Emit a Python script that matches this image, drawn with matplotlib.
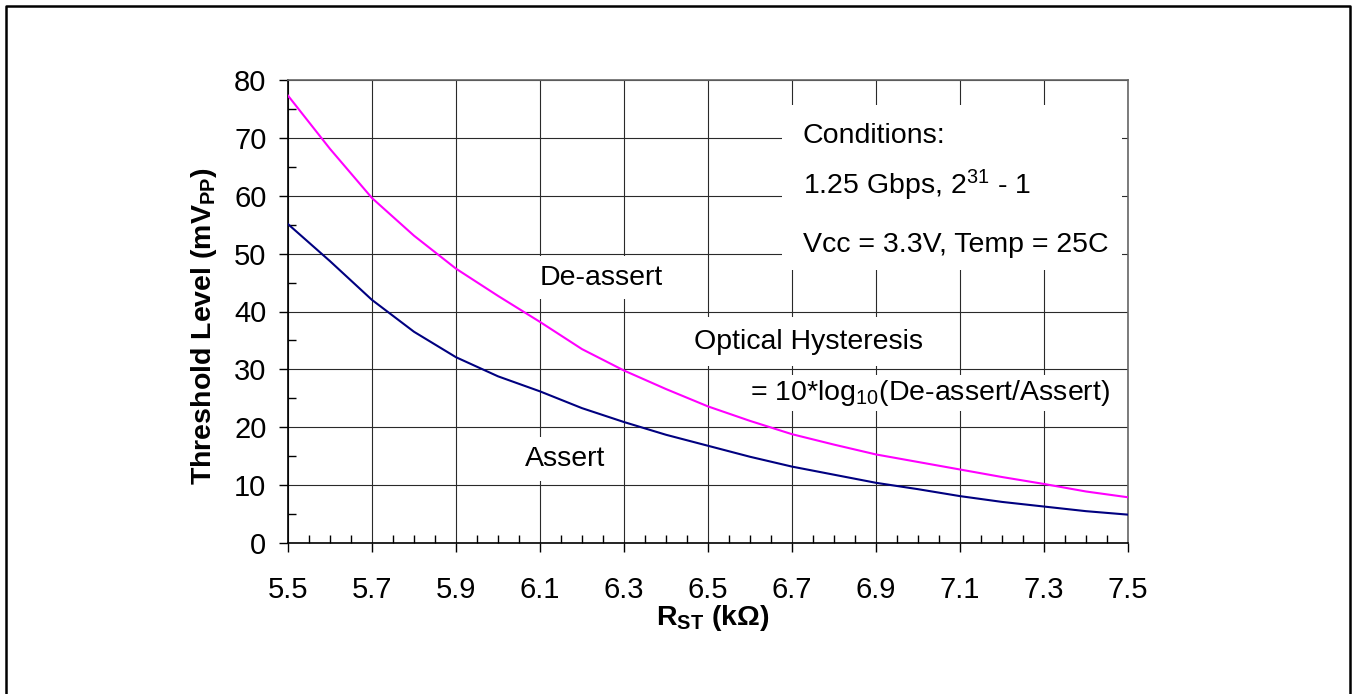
import numpy as np
import matplotlib
matplotlib.use("Agg")
import matplotlib.pyplot as plt
from matplotlib.lines import Line2D
from matplotlib.patches import Rectangle
from matplotlib.ticker import MultipleLocator

OUT_PATH = "out.png"

# R_ST in kOhm
r_st = [5.5, 5.6, 5.7, 5.8, 5.9, 6.0, 6.1, 6.2, 6.3, 6.4, 6.5,
        6.6, 6.7, 6.8, 6.9, 7.0, 7.1, 7.2, 7.3, 7.4, 7.5]
# threshold levels (mVpp)
deassert = [77.3, 68.1, 59.6, 53.1, 47.4, 42.7, 38.2, 33.5, 29.8, 26.6, 23.6,
            21.1, 18.8, 17.0, 15.3, 14.0, 12.7, 11.4, 10.2, 8.9, 7.9]
assert_lvl = [55.1, 48.7, 42.0, 36.5, 32.1, 28.8, 26.2, 23.3, 20.9, 18.7, 16.8,
              14.9, 13.2, 11.8, 10.4, 9.3, 8.1, 7.1, 6.3, 5.5, 4.9]

x_ticks = [5.5, 5.7, 5.9, 6.1, 6.3, 6.5, 6.7, 6.9, 7.1, 7.3, 7.5]
x_tick_labels = ["5.5", "5.7", "5.9", "6.1", "6.3", "6.5", "6.7", "6.9", "7.1", "7.3", "7.5"]
y_ticks = [0, 10, 20, 30, 40, 50, 60, 70, 80]

plt.rcParams["font.family"] = ["Liberation Sans", "DejaVu Sans"]
plt.rcParams["font.size"] = 20.5
plt.rcParams["mathtext.fontset"] = "custom"
plt.rcParams["mathtext.rm"] = "Liberation Sans"
plt.rcParams["mathtext.it"] = "Liberation Sans:italic"
plt.rcParams["mathtext.bf"] = "Liberation Sans:bold"

fig = plt.figure(figsize=(13.52, 6.94), dpi=100)
ax = fig.add_axes([288 / 1352, 151 / 694, 840 / 1352, 463 / 694])

ax.plot(r_st, deassert, color="#FF00FF", lw=1.5, zorder=3)
ax.plot(r_st, assert_lvl, color="#000080", lw=1.5, zorder=3)

ax.set_xlim(5.5, 7.5)
ax.set_ylim(0, 80)
ax.set_xticks(x_ticks, x_tick_labels)
ax.set_yticks(y_ticks)
ax.xaxis.set_minor_locator(MultipleLocator(0.05))
ax.yaxis.set_minor_locator(MultipleLocator(5))

ax.grid(True, which="major", color="#2a2a2a", lw=0.8)
ax.set_axisbelow(True)

ax.tick_params(which="major", direction="out", length=6.5, width=1, color="black",
               labelsize=21)
ax.tick_params(axis="x", which="major", pad=17)
ax.tick_params(axis="y", which="major", pad=9)
ax.tick_params(which="minor", direction="in", length=5.5, width=1, color="black")

for side in ["left", "bottom"]:
    ax.spines[side].set_color("black")
    ax.spines[side].set_linewidth(1.2)
for side in ["top", "right"]:
    ax.spines[side].set_color("#666666")
    ax.spines[side].set_linewidth(1.2)

# axis titles
ax.text(-0.1, 0.469, r"Threshold Level (mV$_\mathbf{PP}$)", transform=ax.transAxes,
        rotation=90, ha="center", va="center", fontweight="bold")
ax.set_xlabel(r"R$_\mathbf{ST}$ (kΩ)", fontweight="bold")
ax.xaxis.set_label_coords(0.506, -0.13)

# conditions box
ax.add_patch(Rectangle((0.588, 0.59), 0.405, 0.356, transform=ax.transAxes,
                       facecolor="white", edgecolor="none", zorder=2.5))
ax.text(6.726, 69.2, "Conditions:", ha="left", va="baseline", zorder=4)
ax.text(6.726, 60.3, r"1.25 Gbps, 2$^{31}$ - 1", ha="left", va="baseline", zorder=4)
ax.text(6.726, 50.3, "Vcc = 3.3V, Temp = 25C", ha="left", va="baseline", zorder=4)

box = dict(facecolor="white", edgecolor="none", boxstyle="square,pad=0.3")
ax.text(6.098, 44.6, "De-assert", ha="left", va="baseline", bbox=box, zorder=4)
ax.text(6.467, 33.6, "Optical Hysteresis", ha="left", va="baseline",
        bbox=dict(facecolor="white", edgecolor="none", boxstyle="square,pad=0.4"), zorder=4)
ax.text(6.6, 24.7, r"= 10*log$_{10}$(De-assert/Assert)", ha="left", va="baseline",
        bbox=dict(facecolor="white", edgecolor="none", boxstyle="square,pad=0.1"), zorder=4)
ax.text(6.064, 13.3, "Assert", ha="left", va="baseline", bbox=box, zorder=4)

# outer frame (left, top, right)
fig.add_artist(Line2D([6 / 1352, 6 / 1352, 1350 / 1352, 1350 / 1352],
                      [0, 1 - 5.5 / 694, 1 - 5.5 / 694, 0],
                      transform=fig.transFigure, color="black", lw=1.8))

fig.savefig(OUT_PATH, dpi=100)
plt.close(fig)
